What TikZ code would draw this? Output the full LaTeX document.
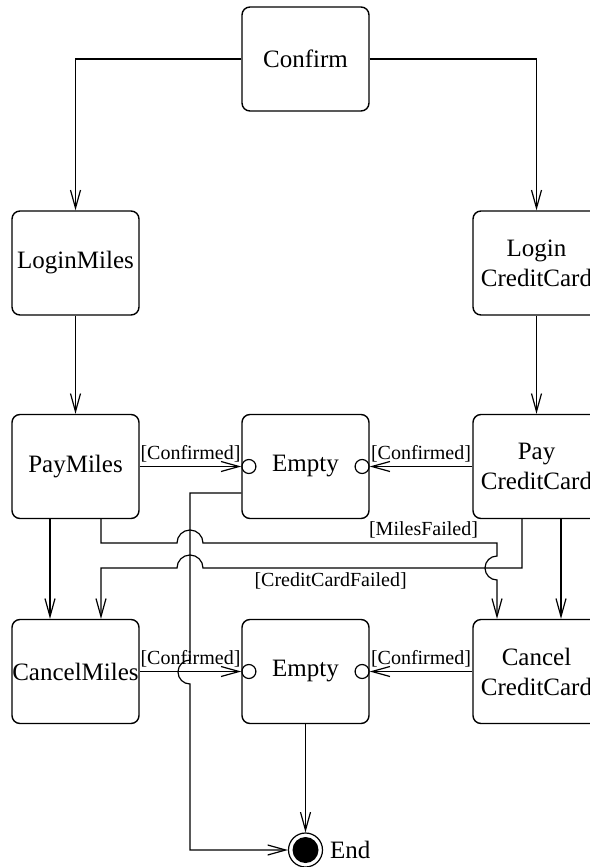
\documentclass[tikz,border=0pt]{standalone}
\usepackage{fontspec}
\setmainfont{Liberation Serif}
\usepackage{tikz}
\usetikzlibrary{arrows.meta}

\begin{document}
\begin{tikzpicture}[x=0.5pt,y=-0.5pt]
    \tikzstyle{activity}=[rectangle, rounded corners=4pt, draw, line width=0.7pt, minimum width=63.5pt, minimum height=52pt, inner sep=0pt, align=center, font=\fontsize{12.5}{15}\selectfont]
    \tikzstyle{port}=[circle, draw, line width=0.6pt, minimum size=7pt, inner sep=0pt]
    \tikzstyle{final}=[circle, draw, line width=0.6pt, minimum size=17pt, inner sep=0pt, path picture={\fill (path picture bounding box.center) circle (6.5pt);}]
    \tikzstyle{guard}=[font=\fontsize{10}{12}\selectfont, inner sep=2pt]
    \tikzstyle{flow}=[line width=0.6pt, -{Straight Barb[length=9pt,width=5pt]}]
    \useasboundingbox (0,0) rectangle (589,867);
    \node[activity] (confirm) at (305.5,59) {Confirm};
    \node[activity] (loginMiles) at (75.5,263) {LoginMiles};
    \node[activity] (loginCC) at (536.5,263) {Login\\CreditCard};
    \node[activity] (payMiles) at (75.5,466.5) {PayMiles};
    \node[activity] (empty1) at (305.5,466.5) {Empty};
    \node[activity] (payCC) at (536.5,466.5) {Pay\\CreditCard};
    \node[activity] (cancelMiles) at (75.5,671.5) {CancelMiles};
    \node[activity] (empty2) at (305.5,671.5) {Empty};
    \node[activity] (cancelCC) at (536.5,671.5) {Cancel\\CreditCard};
    \node[port, anchor=west] (inA) at (empty1.west) {};
    \node[port, anchor=east] (inB) at (empty1.east) {};
    \node[port, anchor=west] (inC) at (empty2.west) {};
    \node[port, anchor=east] (inD) at (empty2.east) {};
    \node[final, label={[font=\fontsize{12.5}{15}\selectfont]right:End}] (endst) at (305.5,850) {};

    \draw[flow] (confirm.west) -| (loginMiles.north);
    \draw[flow] (confirm.east) -| (loginCC.north);
    \draw[flow] (loginMiles) -- (payMiles);
    \draw[flow] (loginCC) -- (payCC);
    \draw[flow] (payMiles) -- node[guard, above] {[Confirmed]} (inA);
    \draw[flow] (payCC) -- node[guard, above] {[Confirmed]} (inB);
    \draw[flow] (cancelMiles) -- node[guard, above] {[Confirmed]} (inC);
    \draw[flow] (cancelCC) -- node[guard, above] {[Confirmed]} (inD);
    \draw[flow] ([xshift=-12.75pt]payMiles.south) -- ([xshift=-12.75pt]cancelMiles.north);
    \draw[flow] ([xshift=12.25pt]payCC.south) -- ([xshift=12.25pt]cancelCC.north);
    \draw[flow] ([xshift=12.75pt]payMiles.south) |- (177,543)
        arc[start angle=180, end angle=0, radius=6.5pt]
        -- node[guard, above, pos=.75] {[MilesFailed]} (497,543) -- (497,556)
        arc[start angle=90, end angle=270, radius=6pt]
        -- ([xshift=-19.75pt]cancelCC.north);
    \draw[flow] ([xshift=-7.25pt]payCC.south) |- node[guard, below, pos=.8] {[CreditCardFailed]} (203,568)
        arc[start angle=0, end angle=180, radius=6.5pt]
        -| ([xshift=12.75pt]cancelMiles.north);
    \draw[flow] ([yshift=-13.25pt]empty1.west) -| (190,660)
        arc[start angle=90, end angle=270, radius=6pt]
        |- (endst);
    \draw[flow] (empty2) -- (endst);
\end{tikzpicture}
\end{document}
